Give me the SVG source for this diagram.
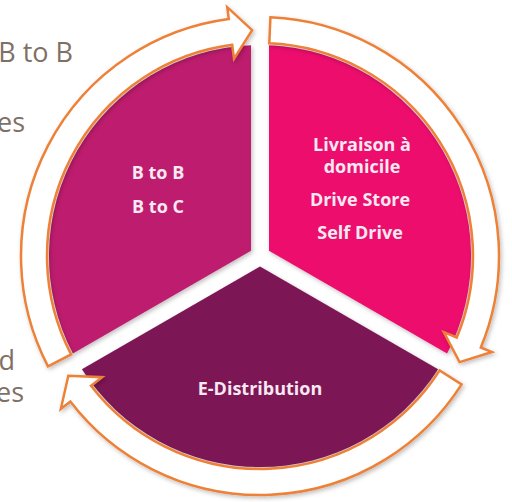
<svg xmlns="http://www.w3.org/2000/svg" width="512" height="502" viewBox="0 0 512 502">
  <defs>
    <filter id="sh" x="-10%" y="-10%" width="120%" height="120%">
      <feDropShadow dx="1.5" dy="2" stdDeviation="2" flood-color="#000" flood-opacity="0.25"/>
    </filter>
    <style>
      .bg { font-family: "Open Sans", "Liberation Sans", sans-serif; font-size: 27px; fill: #7F7066; }
      .lbl { font-family: "Open Sans", "Liberation Sans", sans-serif; font-size: 18px; font-weight: bold; fill: #F8E8F1; text-anchor: middle; }
      .ring { fill: #FFFFFF; stroke: #EE8138; stroke-width: 2.5; stroke-linejoin: miter; filter: url(#sh); }
      .wedge { filter: url(#sh); }
    </style>
  </defs>
  <rect width="512" height="502" fill="#FFFFFF"/>

  <!-- partially visible background text -->
  <text class="bg" x="73" y="62" text-anchor="end">B to B</text>
  <text class="bg" x="25" y="132" text-anchor="end">es</text>
  <text class="bg" x="15" y="370" text-anchor="end">d</text>
  <text class="bg" x="24" y="402" text-anchor="end">es</text>

  <g id="node-btob">
    <path class="wedge" d="M 251,250.8 L 251,45.2 A 211 211 0 0 0 72.9,353.6 Z" fill="#BE1E6E"/>
    <text class="lbl" x="158" y="179">B to B</text>
    <text class="lbl" x="158" y="213">B to C</text>
  </g>

  <g id="node-livraison">
    <path class="wedge" d="M 269,250.8 L 269,45.2 A 211 211 0 0 1 447.1,353.6 Z" fill="#EC0F6D"/>
    <text class="lbl" x="362" y="151">Livraison à</text>
    <text class="lbl" x="362" y="173">domicile</text>
    <text class="lbl" x="360" y="206">Drive Store</text>
    <text class="lbl" x="360" y="239">Self Drive</text>
  </g>

  <g id="node-edistribution">
    <path class="wedge" d="M 260,266.4 L 438.1,369.2 A 211 211 0 0 1 81.9,369.2 Z" fill="#7D1955"/>
    <text class="lbl" x="260" y="395">E-Distribution</text>
  </g>

  <g id="connectors">
    <path class="ring" d="M 48.01,366.36 A 239 239 0 0 1 228.80,19.05 L 227.24,7.15 L 252.11,30.14 L 234.02,58.70 L 232.20,44.82 A 213 213 0 0 0 71.07,354.35 Z"/>
    <path class="ring" d="M 270.43,17.23 A 239 239 0 0 1 480.81,347.46 L 491.89,352.05 L 459.55,362.10 L 443.85,332.15 L 456.79,337.51 A 213 213 0 0 0 269.29,43.20 Z"/>
    <path class="ring" d="M 461.57,384.41 A 239 239 0 0 1 70.39,401.49 L 60.87,408.80 L 68.34,375.76 L 102.12,377.14 L 91.02,385.67 A 213 213 0 0 0 439.64,370.44 Z"/>
  </g>
</svg>
